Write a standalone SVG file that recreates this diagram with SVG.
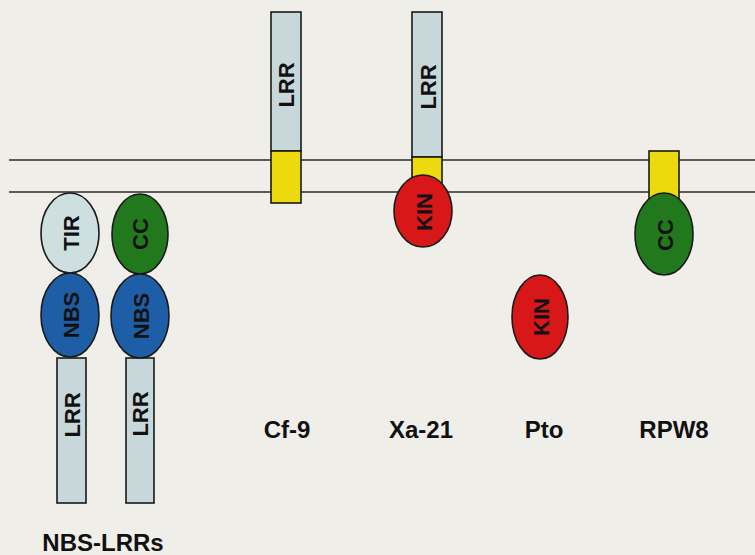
<svg xmlns="http://www.w3.org/2000/svg" width="755" height="555" viewBox="0 0 755 555">
<style>
.bg{fill:#efeee9}
.mem{stroke:#2a2a2a;stroke-width:1.6;fill:none}
.s{stroke:#1a1a1a;stroke-width:1.6}
.lrr{fill:#c8d7d9}
.tm{fill:#ecd90e}
.kin{fill:#d81818}
.cc{fill:#22781c}
.nbs{fill:#1d5ea6}
.tir{fill:#cddfdf}
.t{font-family:"Liberation Sans",Arial,sans-serif;font-weight:bold;fill:#111}
.in{font-size:22px;text-anchor:middle;dominant-baseline:central}
.lab{font-size:24px;text-anchor:middle}
</style>
<rect class="bg" x="0" y="0" width="755" height="555"/>
<g id="membrane">
<line class="mem" x1="9" y1="160" x2="755" y2="160"/>
<line class="mem" x1="9" y1="192" x2="755" y2="192"/>
</g>
<g id="nbs-lrr-tir">
<rect class="s lrr" x="57" y="358" width="29" height="145"/>
<text class="t in" transform="translate(72,415) rotate(-90)">LRR</text>
<ellipse class="s tir" cx="70" cy="233" rx="29" ry="40"/>
<text class="t in" transform="translate(71,233) rotate(-90)">TIR</text>
<ellipse class="s nbs" cx="70" cy="315" rx="29" ry="42"/>
<text class="t in" transform="translate(71,315) rotate(-90)">NBS</text>
</g>
<g id="nbs-lrr-cc">
<rect class="s lrr" x="126" y="358" width="28" height="145"/>
<text class="t in" transform="translate(140,414) rotate(-90)">LRR</text>
<ellipse class="s cc" cx="140" cy="234" rx="28" ry="40"/>
<text class="t in" transform="translate(140,234) rotate(-90)">CC</text>
<ellipse class="s nbs" cx="140" cy="316" rx="29" ry="42"/>
<text class="t in" transform="translate(141,316) rotate(-90)">NBS</text>
</g>
<g id="cf9">
<rect class="s lrr" x="271" y="12" width="30" height="139"/>
<text class="t in" transform="translate(286,85) rotate(-90)">LRR</text>
<rect class="s tm" x="271" y="151" width="30" height="52"/>
</g>
<g id="xa21">
<rect class="s lrr" x="412" y="12" width="30" height="145"/>
<text class="t in" transform="translate(428,87) rotate(-90)">LRR</text>
<rect class="s tm" x="412" y="157" width="30" height="30"/>
<ellipse class="s kin" cx="423" cy="211" rx="29" ry="36"/>
<text class="t in" transform="translate(424,212) rotate(-90)">KIN</text>
</g>
<g id="pto">
<ellipse class="s kin" cx="540" cy="317" rx="28" ry="42"/>
<text class="t in" transform="translate(541,317) rotate(-90)">KIN</text>
</g>
<g id="rpw8">
<rect class="s tm" x="649" y="151" width="30" height="50"/>
<ellipse class="s cc" cx="664" cy="234" rx="29" ry="41"/>
<text class="t in" transform="translate(665,235) rotate(-90)">CC</text>
</g>
<g id="labels">
<text class="t lab" x="287" y="438">Cf-9</text>
<text class="t lab" x="421" y="438">Xa-21</text>
<text class="t lab" x="544" y="438">Pto</text>
<text class="t lab" x="674" y="438">RPW8</text>
<text class="t lab" x="103" y="551">NBS-LRRs</text>
</g>
</svg>
